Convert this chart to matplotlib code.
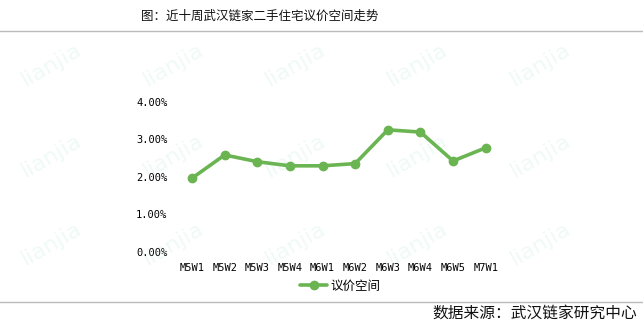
import matplotlib
matplotlib.use("Agg")
import matplotlib.pyplot as plt
from matplotlib.ticker import FuncFormatter, MultipleLocator

plt.rcParams['font.family'] = ['Noto Sans CJK SC', 'DejaVu Sans']

categories = ["M5W1", "M5W2", "M5W3", "M5W4", "M6W1", "M6W2", "M6W3", "M6W4", "M6W5", "M7W1"]
values = [1.96, 2.58, 2.40, 2.29, 2.29, 2.35, 3.25, 3.19, 2.42, 2.77]
series_name = "议价空间"
title = "图：近十周武汉链家二手住宅议价空间走势"
source = "数据来源：武汉链家研究中心"

W, H = 643, 325
fig = plt.figure(figsize=(W / 100, H / 100), dpi=100)
fig.patch.set_facecolor("white")

# faint watermarks
wm_color = "#7fd6b0"
for yy in [0.80, 0.52, 0.25]:
    for xx in [0.08, 0.27, 0.46, 0.65, 0.84]:
        fig.text(xx, yy, "lianjia", rotation=30, color=wm_color, alpha=0.12,
                 fontsize=16, ha="center", va="center", family="DejaVu Sans")

ax = fig.add_axes([175.7 / W, 1 - 251.7 / H, (502 - 175.7) / W, (251.7 - 101.7) / H])
ax.set_facecolor("none")
x = list(range(len(categories)))
color = "#6AB552"
ax.plot(x, values, color=color, lw=2.6, marker="o", ms=6, label=series_name,
        solid_capstyle="round")
ax.set_xlim(-0.5, len(categories) - 0.5)
ax.set_ylim(0, 4)
ax.yaxis.set_major_locator(MultipleLocator(1))
ax.yaxis.set_major_formatter(FuncFormatter(lambda v, p: f"{v:.2f}%"))
ax.set_xticks(x)
ax.set_xticklabels(categories)
for s in ax.spines.values():
    s.set_visible(False)
ax.tick_params(length=0, labelsize=7.5, colors="black")
ax.tick_params(axis="x", pad=8)
ax.tick_params(axis="y", pad=6)
for lab in ax.get_xticklabels() + ax.get_yticklabels():
    lab.set_family("DejaVu Sans Mono")

leg = fig.legend(loc="center", bbox_to_anchor=(340 / W, 1 - 286 / H), frameon=False,
                 fontsize=9, handlelength=2.2, handletextpad=0.2)

fig.text(260 / W, 1 - 16 / H, title, ha="center", va="center", fontsize=9, color="#111111")
fig.add_artist(plt.Line2D([0, 1], [1 - 31 / H, 1 - 31 / H], color="#bbbbbb", lw=1))
fig.add_artist(plt.Line2D([0, 1], [1 - 302 / H, 1 - 302 / H], color="#bbbbbb", lw=1))
fig.text(637 / W, 1 - 313 / H, source, ha="right", va="center", fontsize=11.3, color="#111111")

fig.savefig("out.png", dpi=100)
